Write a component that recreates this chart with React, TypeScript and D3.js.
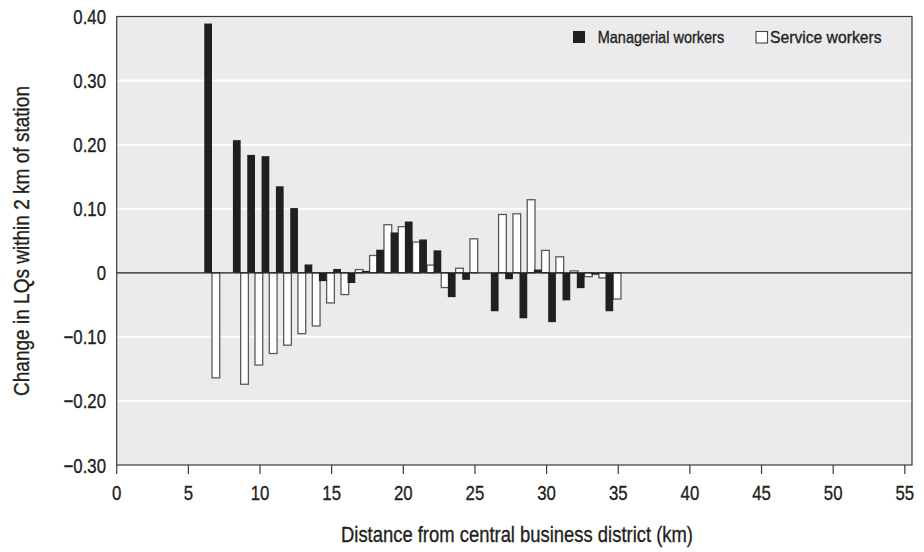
import React from "react";
import * as d3 from "d3";

const distances = [6, 8, 9, 10, 11, 12, 13, 14, 15, 16, 17, 18, 19, 20, 21, 22, 23, 24, 26, 27, 28, 29, 30, 31, 32, 33, 34];
const managerial = [0.389, 0.207, 0.184, 0.182, 0.135, 0.101, 0.013, -0.013, 0.006, -0.016, 0.003, 0.036, 0.063, 0.08, 0.052, 0.035, -0.038, -0.011, -0.06, -0.01, -0.071, 0.005, -0.077, -0.043, -0.024, -0.003, -0.06];
const service = [-0.164, -0.174, -0.144, -0.126, -0.113, -0.095, -0.083, -0.047, -0.034, 0.005, 0.027, 0.075, 0.072, 0.048, 0.012, -0.023, 0.007, 0.053, 0.091, 0.092, 0.114, 0.035, 0.025, 0.003, -0.006, -0.008, -0.041];
const xTicks = [0, 5, 10, 15, 20, 25, 30, 35, 40, 45, 50, 55];
const yTicks = [-0.3, -0.2, -0.1, 0, 0.1, 0.2, 0.3, 0.4];
const seriesNames = ["Managerial workers", "Service workers"];
const xTitle = "Distance from central business district (km)";
const yTitle = "Change in LQs within 2 km of station";

const FONT = "'Liberation Sans', Arial, sans-serif";
const INK = "#231f20";

export default function App() {
  const W = 924, H = 552;
  const left = 116.7, right = 912, top = 16.5, bottom = 465;
  const x = d3.scaleLinear().domain([0, 55.5]).range([left, right]);
  const y = d3.scaleLinear().domain([-0.3, 0.4]).range([bottom, top]);
  const bw = x(0.54) - x(0);
  const fmtY = (v: number) => (v === 0 ? "0" : (v < 0 ? "\u2212" : "") + d3.format(".2f")(Math.abs(v)));
  const sx = 0.8;
  const textStyle = { stroke: INK, strokeWidth: 0.35, paintOrder: "stroke" } as React.CSSProperties;

  return (
    <svg width={W} height={H} style={{ position: "absolute", left: 0, top: 0, background: "#fff" }} fontFamily={FONT}>
      <rect x={left} y={top} width={right - left} height={bottom - top} fill="#ebebed" />
      {yTicks.filter((t) => t !== 0 && t !== 0.4 && t !== -0.3).map((t) => (
        <line key={"g" + t} x1={left} x2={right} y1={y(t)} y2={y(t)} stroke="#fff" strokeWidth={2} />
      ))}
      {distances.map((d, i) => {
        const c = x(d + 0.65);
        const v = service[i];
        return (
          <rect key={"s" + d} x={c} y={y(Math.max(0, v))} width={bw} height={Math.abs(y(v) - y(0))}
            fill="#fff" stroke="#5a5a5a" strokeWidth={1.3} />
        );
      })}
      {distances.map((d, i) => {
        const c = x(d + 0.65);
        const v = managerial[i];
        return (
          <rect key={"m" + d} x={c - bw} y={y(Math.max(0, v))} width={bw} height={Math.abs(y(v) - y(0))}
            fill={INK} />
        );
      })}
      <line x1={left} x2={right} y1={y(0)} y2={y(0)} stroke={INK} strokeWidth={1.2} />
      <rect x={left} y={top} width={right - left} height={bottom - top} fill="none" stroke="#3a3a3a" strokeWidth={1.2} />
      {xTicks.map((t) => (
        <g key={"x" + t}>
          <line x1={x(t)} x2={x(t)} y1={bottom} y2={bottom + 9} stroke="#3a3a3a" strokeWidth={1.2} />
          <text transform={`translate(${x(t)},500) scale(${sx},1)`} textAnchor="middle" fontSize={21} fill={INK} style={textStyle}>{t}</text>
        </g>
      ))}
      {yTicks.map((t) => (
        <text key={"y" + t} transform={`translate(106,${y(t) + 7.5}) scale(${sx},1)`} textAnchor="end" fontSize={21} fill={INK} style={textStyle}>{fmtY(t)}</text>
      ))}
      <text x={341} y={541.5} fontSize={22} fill={INK} style={textStyle} textLength={352} lengthAdjust="spacingAndGlyphs">{xTitle}</text>
      <text transform={`translate(29,396) rotate(-90)`} fontSize={22} fill={INK} style={textStyle} textLength={310} lengthAdjust="spacingAndGlyphs">{yTitle}</text>
      <g>
        <rect x={573} y={31} width={12} height={12} fill={INK} />
        <text x={597.7} y={43.3} fontSize={16.5} fill={INK} style={textStyle} textLength={126.5} lengthAdjust="spacingAndGlyphs">{seriesNames[0]}</text>
        <rect x={756} y={31.5} width={11.5} height={11.5} fill="#fff" stroke="#444" strokeWidth={1.1} />
        <text x={770} y={43.3} fontSize={16.5} fill={INK} style={textStyle} textLength={111.5} lengthAdjust="spacingAndGlyphs">{seriesNames[1]}</text>
      </g>
    </svg>
  );
}
